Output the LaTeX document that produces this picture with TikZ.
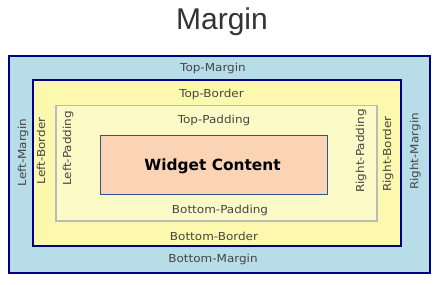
\documentclass[tikz,border=0pt]{standalone}
\usepackage{fontspec}
\setmainfont{DejaVu Sans}
\newfontfamily\lblfont[FakeStretch=1.09]{DejaVu Sans}
\newfontfamily\titlefont{Liberation Sans}
\definecolor{navyline}{HTML}{000080}
\definecolor{marginfill}{HTML}{B7DDE8}
\definecolor{borderfill}{HTML}{FCF8AE}
\definecolor{paddingfill}{HTML}{FCFAC6}
\definecolor{paddingline}{HTML}{BBBBBB}
\definecolor{contentfill}{HTML}{FBD4B5}
\definecolor{contentline}{HTML}{2F5597}
\definecolor{labeltext}{HTML}{454545}
\definecolor{titletext}{HTML}{333333}
\begin{document}
\begin{tikzpicture}[x=1pt,y=-1pt,
  lbl/.style={font=\lblfont\fontsize{11}{13}\selectfont, text=labeltext, inner sep=0pt, anchor=base},
  vlbl/.style={lbl, rotate=90},
  marginbox/.style={line width=2.5pt, draw=navyline, fill=marginfill},
  borderbox/.style={line width=2.2pt, draw=navyline, fill=borderfill},
  paddingbox/.style={line width=1.6pt, draw=paddingline, fill=paddingfill},
  contentbox/.style={line width=0.9pt, draw=contentline, fill=contentfill}]
\useasboundingbox (0,0) rectangle (443,284);
\fill[white] (0,0) rectangle (443,284);
\node[font=\titlefont\fontsize{30}{34}\selectfont, text=titletext, inner sep=0pt, anchor=base] (title) at (222,29.5) {Margin};
\path[marginbox] (9,56) rectangle (430,273);
\path[borderbox] (33,80) rectangle (401,246);
\path[paddingbox] (56,105.5) rectangle (377,221);
\path[contentbox] (100.5,135) rectangle (327,194);
\node[lbl] (tm) at (213,71.7) {Top-Margin};
\node[lbl] (tb) at (211.5,97.3) {Top-Border};
\node[lbl] (tp) at (214,123.2) {Top-Padding};
\node[lbl] (bp) at (220,213.3) {Bottom-Padding};
\node[lbl] (bb) at (214,240) {Bottom-Border};
\node[lbl] (bm) at (213,262.6) {Bottom-Margin};
\node[vlbl] (lm) at (26,152.5) {Left-Margin};
\node[vlbl] (lb) at (45,151) {Left-Border};
\node[vlbl] (lp) at (71,148.5) {Left-Padding};
\node[vlbl] (rp) at (364,151) {Right-Padding};
\node[vlbl] (rb) at (391,154) {Right-Border};
\node[vlbl] (rm) at (418.3,151.5) {Right-Margin};
\node[font=\bfseries\fontsize{15.4}{18}\selectfont, text=black, inner sep=0pt, anchor=base] (wc) at (212.5,170) {Widget Content};
\end{tikzpicture}
\end{document}
